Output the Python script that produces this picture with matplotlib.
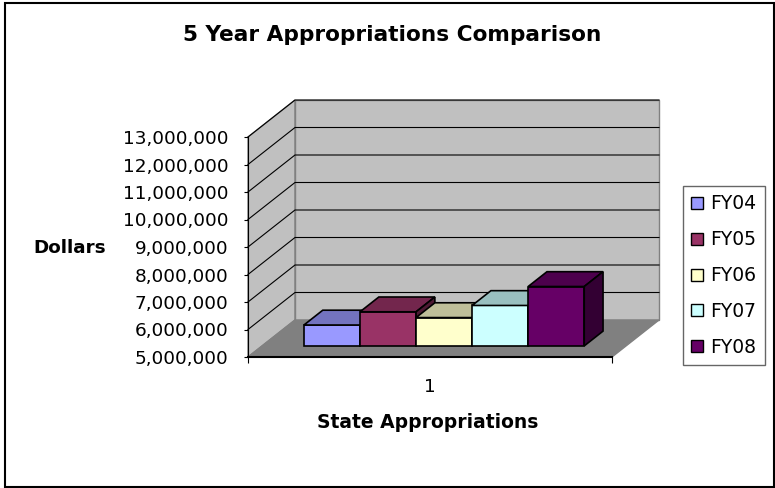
import numpy as np
import matplotlib.pyplot as plt
from matplotlib.patches import Polygon, Patch, Rectangle
from matplotlib.ticker import FuncFormatter

years = ['FY04', 'FY05', 'FY06', 'FY07', 'FY08']
values = [5_760_000, 6_240_000, 6_030_000, 6_470_000, 7_160_000]
colors = ['#9999FF', '#993366', '#FFFFCC', '#CCFFFF', '#660066']
yticks = list(range(5_000_000, 13_000_001, 1_000_000))

ymin, ymax = 5_000_000, 13_000_000
# oblique depth offsets (x in category units, y in dollars)
DX = 47 / 364
DY = 37 / 27.5 * 1e6
z0, z1 = 0.3, 0.7      # bar depth range
w = 0.154              # bar width


def proj(x, y, z):
    return (x + z * DX, y + z * DY)


def shade(c, f):
    r, g, b = [int(c[i:i + 2], 16) / 255 for i in (1, 3, 5)]
    return (r * f, g * f, b * f)


plt.rcParams['font.family'] = 'DejaVu Sans'
fig = plt.figure(figsize=(7.75, 4.88), dpi=100)
ax = fig.add_axes([248 / 775, 131 / 488, 411 / 775, 257 / 488])
ax.set_xlim(0, 1 + DX)
ax.set_ylim(ymin, ymax + DY)
ax.patch.set_visible(False)

# walls and floor
left_wall = [proj(0, ymin, 0), proj(0, ymin, 1), proj(0, ymax, 1), proj(0, ymax, 0)]
back_wall = [proj(0, ymin, 1), proj(1, ymin, 1), proj(1, ymax, 1), proj(0, ymax, 1)]
floor = [proj(0, ymin, 0), proj(1, ymin, 0), proj(1, ymin, 1), proj(0, ymin, 1)]
ax.add_patch(Polygon(left_wall, facecolor='#C0C0C0', edgecolor='#808080', lw=1, zorder=0, clip_on=False))
ax.add_patch(Polygon(back_wall, facecolor='#C0C0C0', edgecolor='#808080', lw=1, zorder=0, clip_on=False))
for v in yticks[1:]:
    pts = np.array([proj(0, v, 0), proj(0, v, 1), proj(1, v, 1)])
    ax.plot(pts[:, 0], pts[:, 1], color='black', lw=0.8, zorder=1, clip_on=False)
ax.add_patch(Polygon(floor, facecolor='#808080', edgecolor='#808080', lw=1, zorder=2, clip_on=False))

# bars
x_start = 0.5 - len(values) * w / 2
for i, (v, c) in enumerate(zip(values, colors)):
    x0 = x_start + i * w
    fx, fy = proj(x0, ymin, z0)
    ax.bar(fx, v - ymin, width=w, bottom=fy, align='edge', color=c,
           edgecolor='black', lw=1.2, zorder=3 + i)
    top = [proj(x0, v, z0), proj(x0 + w, v, z0), proj(x0 + w, v, z1), proj(x0, v, z1)]
    side = [proj(x0 + w, ymin, z0), proj(x0 + w, v, z0), proj(x0 + w, v, z1), proj(x0 + w, ymin, z1)]
    ax.add_patch(Polygon(top, facecolor=shade(c, 0.75), edgecolor='black', lw=1.2, zorder=3 + i))
    ax.add_patch(Polygon(side, facecolor=shade(c, 0.5), edgecolor='black', lw=1.2, zorder=3 + i))

# axes
for s in ['top', 'right']:
    ax.spines[s].set_visible(False)
ax.spines['left'].set_bounds(ymin, ymax)
ax.spines['bottom'].set_bounds(0, 1)
ax.spines['left'].set_zorder(10)
ax.spines['bottom'].set_zorder(10)
ax.spines['bottom'].set_linewidth(1.5)
ax.set_yticks(yticks)
ax.yaxis.set_major_formatter(FuncFormatter(lambda v, p: f'{int(v):,}'))
ax.tick_params(axis='y', length=3, pad=11, labelsize=13.3, direction='out')
ax.set_xticks([0, 1])
ax.set_xticklabels(['', ''])
ax.set_xticks([0.5], minor=True)
ax.set_xticklabels(['1'], minor=True)
ax.tick_params(axis='x', which='major', length=4, direction='out')
ax.tick_params(axis='x', which='minor', length=0, pad=15, labelsize=13.3)

fig.text(392 / 775, 1 - 35 / 488, '5 Year Appropriations Comparison', ha='center', va='center',
         fontsize=15.6, fontweight='bold')
fig.text(70 / 775, 1 - 248 / 488, 'Dollars', ha='center', va='center', fontsize=13.2, fontweight='bold')
fig.text(428 / 775, 1 - 423 / 488, 'State Appropriations', ha='center', va='center',
         fontsize=13.5, fontweight='bold')

handles = [Patch(facecolor=c, edgecolor='black', lw=1) for c in colors]
leg = fig.legend(handles, years, loc='upper left', bbox_to_anchor=(683 / 775, 1 - 186 / 488),
                 fontsize=13.5, frameon=True, fancybox=False, edgecolor='#404040',
                 handlelength=0.6, handleheight=0.6, handletextpad=0.4,
                 labelspacing=0.9, borderpad=0.45, borderaxespad=0)
leg.get_frame().set_linewidth(1)

fig.patches.append(Rectangle((5 / 775, 1 / 488), 769 / 775, 484 / 488, transform=fig.transFigure,
                             fill=False, edgecolor='black', lw=1.5))

fig.savefig('out.png', dpi=100)
